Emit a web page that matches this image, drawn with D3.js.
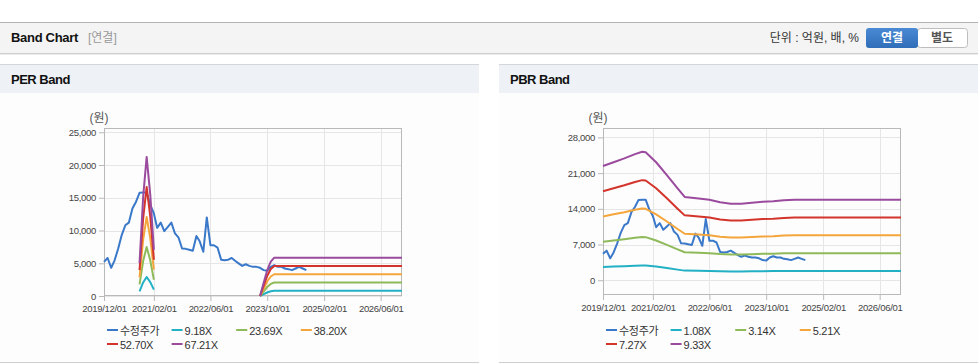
<!DOCTYPE html>
<html>
<head>
<meta charset="utf-8">
<script src="https://cdn.jsdelivr.net/npm/d3@7/dist/d3.min.js"></script>
<style>
body { margin: 0; background: #fff; overflow: hidden; }
svg { display: block; font-family: "Liberation Sans", Arial, "Noto Sans CJK KR", sans-serif; }
</style>
</head>
<body>
<div id="chart"></div>
<script>
// monthly adjusted price, 2019/12 .. 2024/09
var priceStart = "2019/12/01";
var price = [5200, 5800, 4300, 5450, 7250, 9300, 10800, 11200, 13350, 14400, 15750, 15800, 15800,
	13900, 12600, 10400, 11200, 9900, 10550, 11200, 9550, 8900, 7250, 7200, 7050,
	6900, 9150, 8350, 6750, 12000, 7750, 7750, 7400, 5550, 5450, 5550, 5800,
	5350, 4950, 4600, 4850, 4600, 4450, 4450, 4300, 3950, 3850, 4450, 4700,
	4450, 4450, 4200, 4100, 3950, 4200, 4450, 4200, 3950];

// PER band (null = no band, negative EPS)
var perDates = ["2020/10/01", "2020/11/01", "2020/12/01", "2021/01/01", "2021/02/01", "2021/03/01",
	"2023/07/01", "2023/08/01", "2023/09/01", "2023/10/01", "2023/11/01", "2023/12/01", "2026/12/01"];
var per1 = [689, 2066, 2901, 2111, 964, null, null, 0, 275, 532, 716, 799, 799];
var per2 = [1777, 5330, 7486, 5449, 2487, null, null, 0, 711, 1374, 1848, 2061, 2061];
var per3 = [2865, 8595, 12071, 8786, 4011, null, null, 0, 1146, 2216, 2980, 3323, 3323];
var per4 = [3953, 11858, 16653, 12121, 5534, null, null, 0, 1581, 3057, 4111, 4585, 4585];
var per5 = [5041, 15122, 21238, 15458, 7057, null, null, 0, 2016, 3898, 5242, 5847, 5847];
var perNames = ["9.18X", "23.69X", "38.20X", "52.70X", "67.21X"];

// PBR band
var pbrDates = ["2019/12/01", "2020/03/01", "2020/06/01", "2020/09/01", "2020/11/01", "2020/12/01",
	"2021/03/01", "2021/06/01", "2021/09/01", "2021/11/01", "2022/03/01", "2022/06/01", "2022/09/01",
	"2022/12/01", "2023/03/01", "2023/06/01", "2023/09/01", "2023/12/01", "2024/03/01", "2024/06/01", "2026/12/01"];
var pbr1 = [2592, 2678, 2765, 2862, 2916, 2905, 2678, 2387, 2084, 1890, 1858, 1825, 1771, 1739, 1739, 1760, 1782, 1793, 1814, 1825, 1825];
var pbr2 = [7536, 7787, 8038, 8321, 8478, 8447, 7787, 6939, 6060, 5495, 5401, 5307, 5150, 5055, 5055, 5118, 5181, 5212, 5275, 5307, 5307];
var pbr3 = [12504, 12921, 13338, 13807, 14067, 14015, 12921, 11514, 10055, 9118, 8961, 8805, 8544, 8388, 8388, 8492, 8597, 8649, 8753, 8805, 8805];
var pbr4 = [17448, 18030, 18611, 19266, 19629, 19556, 18030, 16067, 14031, 12723, 12504, 12286, 11923, 11705, 11705, 11850, 11996, 12068, 12214, 12286, 12286];
var pbr5 = [22392, 23138, 23885, 24725, 25191, 25098, 23138, 20619, 18007, 16328, 16048, 15768, 15301, 15021, 15021, 15208, 15395, 15488, 15674, 15768, 15768];
var pbrNames = ["1.08X", "3.14X", "5.21X", "7.27X", "9.33X"];

var xTicks = ["2019/12/01", "2021/02/01", "2022/06/01", "2023/10/01", "2025/02/01", "2026/06/01"];
var perTicks = [0, 5000, 10000, 15000, 20000, 25000];
var pbrTicks = [0, 7000, 14000, 21000, 28000];

var colors = ["#3a78c9", "#22b0c4", "#8fba5a", "#f4a63c", "#d3342b", "#9b4b9d"];
var parse = d3.timeParse("%Y/%m/%d");

var W = 978, H = 364;
var svg = d3.select('#chart').append('svg').attr('width', W).attr('height', H);

// top bar
svg.append('rect').attr('x', 0).attr('y', 22).attr('width', W).attr('height', 31).attr('fill', '#f4f4f4');
svg.append('line').attr('x1', 0).attr('x2', W).attr('y1', 22.5).attr('y2', 22.5).attr('stroke', '#b2b2b2');
svg.append('line').attr('x1', 0).attr('x2', W).attr('y1', 53.5).attr('y2', 53.5).attr('stroke', '#cfcfcf');
svg.append('line').attr('x1', 0).attr('x2', W).attr('y1', 54.5).attr('y2', 54.5).attr('stroke', '#ececec');
svg.append('text').attr('x', 11).attr('y', 42).attr('font-size', 13).attr('font-weight', 'bold')
	.attr('letter-spacing', -0.3).attr('fill', '#111').text('Band Chart');
svg.append('text').attr('x', 88).attr('y', 42).attr('font-size', 12).attr('fill', '#999').text('[연결]');
svg.append('text').attr('x', 859).attr('y', 42).attr('font-size', 12).attr('fill', '#333')
	.attr('text-anchor', 'end').text('단위 : 억원, 배, %');

var grad = svg.append('defs').append('linearGradient').attr('id', 'btn').attr('x1', 0).attr('x2', 0).attr('y1', 0).attr('y2', 1);
grad.append('stop').attr('offset', '0%').attr('stop-color', '#4a8ad4');
grad.append('stop').attr('offset', '100%').attr('stop-color', '#2f6db8');
svg.append('rect').attr('x', 917.5).attr('y', 28.5).attr('width', 50).attr('height', 19).attr('rx', 3)
	.attr('fill', '#fff').attr('stroke', '#bdbdbd');
svg.append('rect').attr('x', 866).attr('y', 28).attr('width', 52).attr('height', 20).attr('rx', 3)
	.attr('fill', 'url(#btn)');
svg.append('text').attr('x', 892).attr('y', 42).attr('font-size', 12).attr('font-weight', 'bold')
	.attr('fill', '#fff').attr('text-anchor', 'middle').text('연결');
svg.append('text').attr('x', 942).attr('y', 42).attr('font-size', 12).attr('font-weight', 'bold')
	.attr('fill', '#555').attr('text-anchor', 'middle').text('별도');

function drawBand(cfg) {
	var g = svg.append('g');
	// panel
	g.append('rect').attr('x', cfg.px).attr('y', 64).attr('width', cfg.pw).attr('height', 300).attr('fill', '#fdfdfd');
	g.append('rect').attr('x', cfg.px).attr('y', 64).attr('width', cfg.pw).attr('height', 29).attr('fill', '#eef2f7');
	g.append('line').attr('x1', cfg.px).attr('x2', cfg.px + cfg.pw).attr('y1', 64.5).attr('y2', 64.5).attr('stroke', '#d4d6d9');
	g.append('line').attr('x1', cfg.px).attr('x2', cfg.px + cfg.pw).attr('y1', 362.5).attr('y2', 362.5).attr('stroke', '#d0d0d0');
	g.append('text').attr('x', cfg.px + 11).attr('y', 84).attr('font-size', 13).attr('font-weight', 'bold')
		.attr('letter-spacing', -0.5).attr('fill', '#111').text(cfg.title);

	var x = d3.scaleTime().domain([parse("2019/12/01"), parse("2026/12/01")]).range([cfg.left, cfg.right]);
	var y = d3.scaleLinear().domain(cfg.yDomain).range([cfg.bottom, cfg.top]);

	// grid
	g.selectAll('.vg').data(xTicks).enter().append('line')
		.attr('x1', function(d) { return Math.round(x(parse(d))) + 0.5; })
		.attr('x2', function(d) { return Math.round(x(parse(d))) + 0.5; })
		.attr('y1', cfg.top).attr('y2', cfg.bottom).attr('stroke', '#e6e6e6');
	g.selectAll('.hg').data(cfg.yTicks).enter().append('line')
		.attr('x1', cfg.left).attr('x2', cfg.right)
		.attr('y1', function(d) { return Math.round(y(d)) + 0.5; })
		.attr('y2', function(d) { return Math.round(y(d)) + 0.5; })
		.attr('stroke', '#e6e6e6');
	g.append('rect').attr('x', cfg.left + 0.5).attr('y', cfg.top + 0.5)
		.attr('width', cfg.right - cfg.left - 1).attr('height', cfg.bottom - cfg.top - 1)
		.attr('fill', 'none').attr('stroke', '#b9b9b9');

	// axes
	var xa = g.append('g').attr('transform', 'translate(0,' + cfg.bottom + ')')
		.call(d3.axisBottom(x).tickValues(xTicks.map(parse)).tickFormat(d3.timeFormat("%Y/%m/%d")).tickSize(5).tickPadding(4));
	var ya = g.append('g').attr('transform', 'translate(' + cfg.left + ',0)')
		.call(d3.axisLeft(y).tickValues(cfg.yTicks).tickFormat(d3.format(",")).tickSize(5).tickPadding(3));
	[xa, ya].forEach(function(a) {
		a.select('.domain').remove();
		a.selectAll('line').attr('stroke', '#b9b9b9');
		a.selectAll('text').attr('fill', '#444').attr('font-size', 9.5).attr('letter-spacing', -0.3)
			.attr('font-family', '"Liberation Sans", Arial, sans-serif');
	});
	g.append('text').attr('x', cfg.left - 5).attr('y', 122).attr('font-size', 12).attr('fill', '#555')
		.attr('text-anchor', 'middle').text('(원)');

	// series
	var line = d3.line()
		.defined(function(d) { return d[1] !== null; })
		.x(function(d) { return x(d[0]); })
		.y(function(d) { return y(d[1]); });
	var start = parse(priceStart);
	var pData = price.map(function(v, i) { return [d3.timeMonth.offset(start, i), v]; });
	g.append('path').attr('d', line(pData)).attr('fill', 'none')
		.attr('stroke', colors[0]).attr('stroke-width', 2).attr('stroke-linejoin', 'round');
	cfg.bands.forEach(function(b, k) {
		var data = b.map(function(v, i) { return [parse(cfg.dates[i]), v]; });
		g.append('path').attr('d', line(data)).attr('fill', 'none')
			.attr('stroke', colors[k + 1]).attr('stroke-width', 2).attr('stroke-linejoin', 'round');
	});

	// legend
	var names = ["수정주가"].concat(cfg.names);
	var leg = g.selectAll('.leg').data(names).enter().append('g')
		.attr('transform', function(d, i) {
			return 'translate(' + (cfg.legX + (i % 4) * 64.6) + ',' + (330 + Math.floor(i / 4) * 14) + ')';
		});
	leg.append('rect').attr('x', 0).attr('y', -1).attr('width', 11).attr('height', 2)
		.attr('fill', function(d, i) { return colors[i]; });
	leg.append('text').attr('x', 13).attr('y', 4.5).attr('font-size', 11).attr('letter-spacing', -0.3)
		.attr('fill', '#333')
		.attr('font-family', '"Liberation Sans", Arial, "Noto Sans CJK KR", sans-serif')
		.text(function(d) { return d; });
}

drawBand({
	title: 'PER Band', px: 0, pw: 479, left: 104, right: 402, top: 128, bottom: 296,
	yDomain: [0, 25650], yTicks: perTicks, dates: perDates,
	bands: [per1, per2, per3, per4, per5], names: perNames, legX: 107
});
drawBand({
	title: 'PBR Band', px: 499, pw: 479, left: 603, right: 901, top: 128, bottom: 295,
	yDomain: [-2890, 29850], yTicks: pbrTicks, dates: pbrDates,
	bands: [pbr1, pbr2, pbr3, pbr4, pbr5], names: pbrNames, legX: 606
});
</script>
</body>
</html>
